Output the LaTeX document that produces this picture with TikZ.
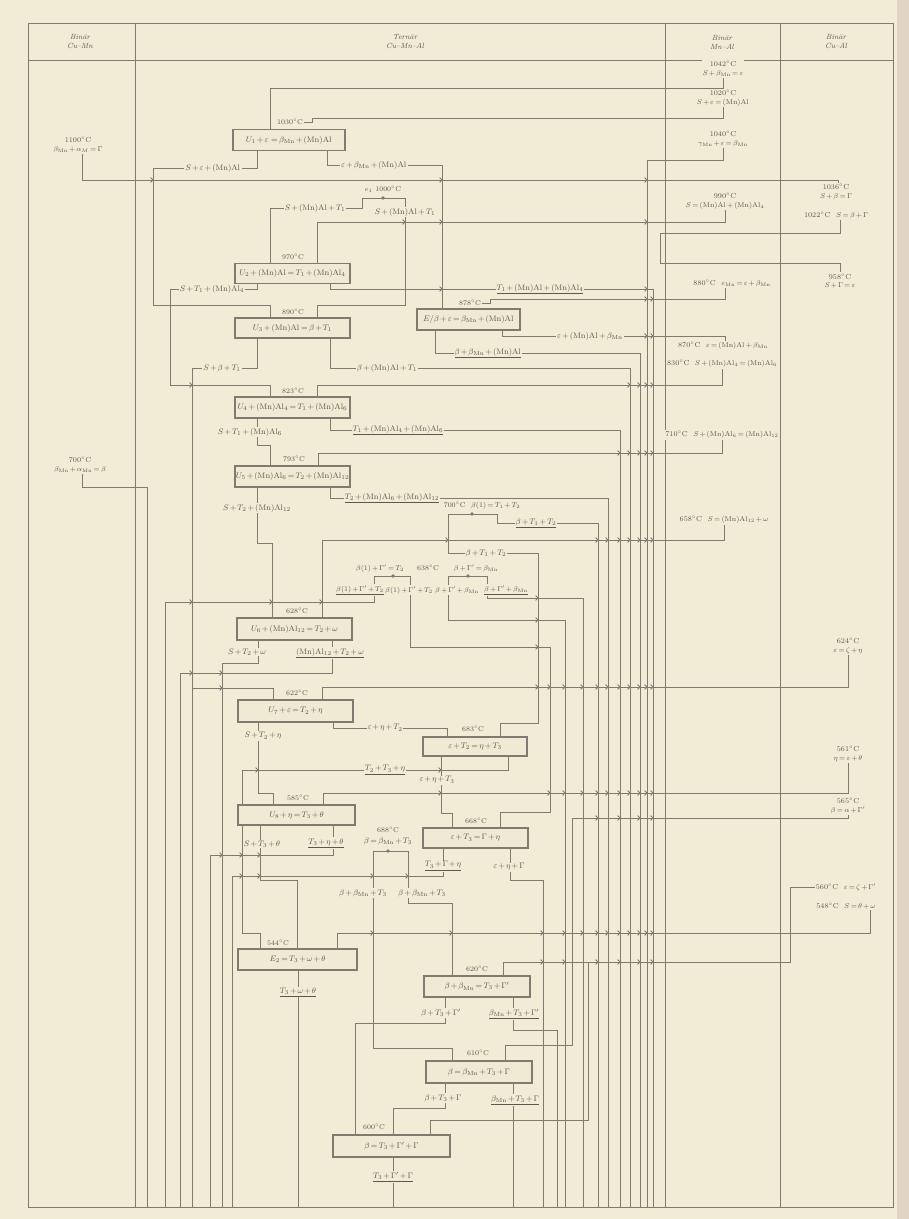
\documentclass[tikz,border=0pt]{standalone}
\newcommand{\bMn}{\beta_{\mathrm{Mn}}}
\newcommand{\MA}[1][]{(\mathrm{Mn})\mathrm{Al}_{#1}}
\newcommand{\dC}{\ensuremath{^\circ}C}
\newcommand{\tightm}{\medmuskip=2.2mu\thickmuskip=2.8mu\relax}
\pgfdeclarelayer{back}
\pgfdeclarelayer{wires}
\pgfsetlayers{back,wires,main}
\definecolor{paper}{RGB}{242,235,213}
\definecolor{edge}{RGB}{226,212,196}
\definecolor{linec}{RGB}{128,122,112}
\definecolor{txtc}{RGB}{92,87,80}
\definecolor{boxf}{RGB}{240,233,211}
\tikzset{
 wire/.style={draw=linec, line width=0.8pt},
 frame/.style={draw=linec, line width=1pt},
 tlab/.style={font=\fontsize{8}{9}\selectfont\tightm, text=txtc, fill=paper, inner sep=1pt},
 tmp/.style={tlab, font=\fontsize{7}{8}\selectfont},
 hdr/.style={font=\fontsize{7.5}{9}\selectfont\itshape, text=txtc, align=center},
 bin/.style={tlab, align=center, font=\fontsize{7.2}{8.4}\selectfont\tightm},
 sml/.style={tlab, font=\fontsize{7}{8}\selectfont\tightm},
 box/.style={draw=linec, line width=1.7pt, fill=boxf, text=txtc, font=\fontsize{8.2}{9}\selectfont\tightm, inner sep=1pt},
 chev/.pic={\draw[wire] (-2.4,-2.4) -- (0,0) -- (-2.4,2.4);},
 rdot/.style={circle, fill=linec, inner sep=0pt, minimum size=3.6pt}
}
\begin{document}
\begin{tikzpicture}[x=1pt,y=-1pt]
\useasboundingbox (0,0) rectangle (909,1219);
\begin{pgfonlayer}{back}
\fill[paper] (0,0) rectangle (909,1219);
\fill[edge] (897,0) rectangle (909,1219);
\end{pgfonlayer}
% headers
\node[hdr] (H1) at (80,42) {Binär\\Cu--Mn};
\node[hdr] (H2) at (405,42) {Ternär\\Cu--Mn--Al};
\node[hdr] (H3) at (722,42) {Binär\\Mn--Al};
\node[hdr] (H4) at (836,42) {Binär\\Cu--Al};
% binary reactions
\node[bin] (L1) at (78,145) {1100\dC\\$\bMn+\alpha_M=\Gamma$};
\node[bin] (L2) at (80,465) {700\dC\\$\bMn+\alpha_{\mathrm{Mn}}=\beta$};
\node[bin] (M1) at (723,69) {1042\dC\\$S+\bMn=\varepsilon$};
\node[bin] (M2) at (723,98) {1020\dC\\$S+\varepsilon=\MA$};
\node[bin] (M3) at (723,139) {1040\dC\\$\gamma_{\mathrm{Mn}}+\varepsilon=\bMn$};
\node[bin] (M4) at (725,201) {990\dC\\$S=\MA+\MA[4]$};
\node[bin] (M5) at (732,283) {880\dC\ \ $\varepsilon_{\mathrm{Mn}}=\varepsilon+\bMn$};
\node[bin] (M6) at (723,346) {870\dC\ \ $\varepsilon=\MA+\bMn$};
\node[bin] (M7) at (722,364) {830\dC\ \ $S+\MA[4]=\MA[6]$};
\node[bin] (M8) at (722,435) {710\dC\ \ $S+\MA[6]=\MA[12]$};
\node[bin] (M9) at (724,520) {658\dC\ \ $S=\MA[12]+\omega$};
\node[bin] (C1) at (836,192) {1036\dC\\$S+\beta=\Gamma$};
\node[bin] (C2) at (836,215) {1022\dC\ \ $S=\beta+\Gamma$};
\node[bin] (C3) at (840,281) {958\dC\\$S+\Gamma=\varepsilon$};
\node[bin] (C4) at (848,646) {624\dC\\$\varepsilon=\zeta+\eta$};
\node[bin] (C5) at (848,754) {561\dC\\$\eta=\varepsilon+\theta$};
\node[bin] (C6) at (848,806) {565\dC\\$\beta=\alpha+\Gamma'$};
\node[bin] (C7) at (846,887) {560\dC\ \ $\varepsilon=\zeta+\Gamma'$};
\node[bin] (C8) at (846,906) {548\dC\ \ $S=\theta+\omega$};
% boxes
\node[box, minimum width=112pt, minimum height=21pt] (B1) at (289,140) {$U_1+\varepsilon\;=\bMn+\MA$};
\node[box, minimum width=115pt, minimum height=20pt] (B2) at (292.5,273.5) {$U_2+\MA=T_1+\MA[4]$};
\node[box, minimum width=115pt, minimum height=20pt] (B3) at (292.5,328) {$U_3+\MA=\beta+T_1$};
\node[box, minimum width=103pt, minimum height=21pt] (B4) at (468.5,319.5) {$E/\beta+\varepsilon=\bMn+\MA$};
\node[box, minimum width=115pt, minimum height=21pt] (B5) at (292.5,407.5) {$U_4+\MA[4]=T_1+\MA[6]$};
\node[box, minimum width=115pt, minimum height=21pt] (B6) at (292.5,476.5) {$U_5+\MA[6]=T_2+\MA[12]$};
\node[box, minimum width=115pt, minimum height=22pt] (B7) at (294.5,629) {$U_6+\MA[12]=T_2+\omega$};
\node[box, minimum width=115pt, minimum height=22pt] (B8) at (295.5,711) {$U_7+\varepsilon=T_2+\eta$};
\node[box, minimum width=104pt, minimum height=19pt] (B9) at (475,746.5) {$\varepsilon+T_2=\eta+T_3$};
\node[box, minimum width=117pt, minimum height=20pt] (B10) at (296.5,815) {$U_8+\eta=T_3+\theta$};
\node[box, minimum width=105pt, minimum height=20pt] (B11) at (475.5,838) {$\varepsilon+T_3=\Gamma+\eta$};
\node[box, minimum width=119pt, minimum height=21pt] (B12) at (297.5,959.5) {$E_2=T_3+\omega+\theta$};
\node[box, minimum width=106pt, minimum height=21pt] (B13) at (477,986.5) {$\beta+\bMn=T_3+\Gamma'$};
\node[box, minimum width=106pt, minimum height=22pt] (B14) at (479,1072) {$\beta=\bMn+T_3+\Gamma$};
\node[box, minimum width=117pt, minimum height=22pt] (B15) at (391.5,1146) {$\beta=T_3+\Gamma'+\Gamma$};
% temperatures
\node[tmp] (T1) at (290,122) {1030\dC};
\node[tmp] (T2) at (293,257) {970\dC};
\node[tmp] (T3) at (293,312) {890\dC};
\node[tmp] (T4) at (470,303) {878\dC};
\node[tmp] (T5) at (293,391) {823\dC};
\node[tmp] (T6) at (294,459) {793\dC};
\node[tmp] (T7) at (297,611) {628\dC};
\node[tmp] (T8) at (297,693) {622\dC};
\node[tmp] (T9) at (473,729) {683\dC};
\node[tmp] (T10) at (298,798) {585\dC};
\node[tmp] (T11) at (476,821) {668\dC};
\node[tmp] (T12) at (278,943) {544\dC};
\node[tmp] (T13) at (477,969) {620\dC};
\node[tmp] (T14) at (478,1053) {610\dC};
\node[tmp] (T15) at (374,1127) {600\dC};
% small ternary maxima
\node[tmp] (E1) at (383,189) {$e_1$\ 1000\dC};
\node[rdot] (D1) at (383,198) {};
\node[sml] (S2) at (482,506) {700\dC\ \ $\beta(1)=T_1+T_2$};
\node[rdot] (D2) at (472,514) {};
\node[sml] (S3a) at (380,568) {$\beta(1)+\Gamma'=T_2$};
\node[tmp] (S3t) at (428,568) {638\dC};
\node[sml] (S3b) at (476,568) {$\beta+\Gamma'=\bMn$};
\node[rdot] (D3) at (393,576) {};
\node[rdot] (D4) at (468,576) {};
\node[tmp] (S4t) at (388,830) {688\dC};
\node[tlab] (S4) at (388,841) {$\beta=\bMn+T_3$};
\node[rdot] (D5) at (388,851) {};
% phase-region labels
\node[tlab] (a1) at (213,168) {$S+\varepsilon+\MA$};
\node[tlab] (a2) at (374,165) {$\varepsilon+\bMn+\MA$};
\node[tlab] (a3) at (315,208) {$S+\MA+T_1$};
\node[tlab] (a4) at (405,212) {$S+\MA+T_1$};
\node[tlab] (a5) at (212,289) {$S+T_1+\MA[4]$};
\node[tlab] (a6) at (540,289) {\underline{$T_1+\MA+\MA[4]$}};
\node[tlab] (a7) at (222,368) {$S+\beta+T_1$};
\node[tlab] (a8) at (387,368) {$\beta+\MA+T_1$};
\node[tlab] (a9) at (590,336) {$\varepsilon+\MA+\bMn$};
\node[tlab] (a10) at (488,353) {\underline{$\beta+\bMn+\MA$}};
\node[tlab] (a11) at (250,432) {$S+T_1+\MA[6]$};
\node[tlab] (a12) at (398,430) {\underline{$T_1+\MA[4]+\MA[6]$}};
\node[tlab] (a13) at (257,508) {$S+T_2+\MA[12]$};
\node[tlab] (a14) at (392,498) {\underline{$T_2+\MA[6]+\MA[12]$}};
\node[tlab] (a15) at (536,523) {\underline{$\beta+T_1+T_2$}};
\node[tlab] (a16) at (486,553) {$\beta+T_1+T_2$};
\node[sml] (a17) at (360,590) {\underline{$\beta(1)+\Gamma'+T_2$}};
\node[sml] (a18) at (409,590) {$\beta(1)+\Gamma'+T_2$};
\node[sml] (a19) at (457,590) {$\beta+\Gamma'+\bMn$};
\node[sml] (a20) at (506,590) {\underline{$\beta+\Gamma'+\bMn$}};
\node[tlab] (a21) at (247,652) {$S+T_2+\omega$};
\node[tlab] (a22) at (330,653) {\underline{$\MA[12]+T_2+\omega$}};
\node[tlab] (a23) at (263,736) {$S+T_2+\eta$};
\node[tlab] (a24) at (385,728) {$\varepsilon+\eta+T_2$};
\node[tlab] (a25) at (437,780) {$\varepsilon+\eta+T_3$};
\node[tlab] (a26) at (385,770) {\underline{$T_2+T_3+\eta$}};
\node[tlab] (a27) at (262,844) {$S+T_3+\theta$};
\node[tlab] (a28) at (326,843) {\underline{$T_3+\eta+\theta$}};
\node[tlab] (a29) at (363,893) {$\beta+\bMn+T_3$};
\node[tlab] (a30) at (422,893) {$\beta+\bMn+T_3$};
\node[tlab] (a31) at (443,866) {\underline{$T_3+\Gamma+\eta$}};
\node[tlab] (a32) at (509,867) {$\varepsilon+\eta+\Gamma$};
\node[tlab] (a33) at (298,992) {\underline{$T_3+\omega+\theta$}};
\node[tlab] (a34) at (441,1013) {$\beta+T_3+\Gamma'$};
\node[tlab] (a35) at (514,1014) {\underline{$\bMn+T_3+\Gamma'$}};
\node[tlab] (a36) at (443,1098) {$\beta+T_3+\Gamma$};
\node[tlab] (a37) at (515,1100) {\underline{$\bMn+T_3+\Gamma$}};
\node[tlab] (a38) at (393,1177) {\underline{$T_3+\Gamma'+\Gamma$}};

\begin{pgfonlayer}{wires}
\draw[frame] (28,23) rectangle (893,1207);
\draw[frame] (28,60) -- (893,60);
\foreach \cx in {135,665,780} \draw[frame] (\cx,23) -- (\cx,1207);
% Cu-Mn reactions
\draw[wire] (82,0 |- L1.south) -- (82,180) -- (838,180) -- (838,0 |- C1.north);
\draw[wire] (82,0 |- L2.south) -- (82,487) -- (147,487) -- (147,1207);
% top
\draw[wire] (270,0 |- B1.north) -- (270,88) -- (723,88) -- (723,0 |- M1.south);
\draw[wire] (T1.east) -| (312,118) -- (723,118) -- (723,0 |- M2.south);
\draw[wire] (723,0 |- M3.south) -- (723,160) -- (647,160) -- (647,1207);
\draw[wire] (257,0 |- B1.south) -- (257,168) -- (153,168) -- (153,305) -- (270,305) -- (270,0 |- B3.north);
\draw[wire] (327,0 |- B1.south) -- (327,165) -- (442,165) -- (442,0 |- B4.north);
\draw[wire] (270,0 |- B2.north) -- (270,208) -- (362,208) -- (362,198) -- (405,198) -- (405,305) -- (317,305) -- (317,0 |- B3.north);
\draw[wire] (317,0 |- B2.north) -- (317,222) -- (725,222) -- (725,0 |- M4.south);
\draw[wire] (840,0 |- C2.south) -- (840,233) -- (660,233) -- (660,263) -- (840,263) -- (840,0 |- C3.north);
% U2
\draw[wire] (257,0 |- B2.south) -- (257,289) -- (170,289) -- (170,385) -- (270,385) -- (270,0 |- B5.north);
\draw[wire] (330,0 |- B2.south) -- (330,289) -- (653,289) -- (653,1207);
% U3
\draw[wire] (257,0 |- B3.south) -- (257,368) -- (192,368) -- (192,1207);
\draw[wire] (330,0 |- B3.south) -- (330,368) -- (630,368) -- (630,1207);
% E / 878
\draw[wire] (T4.east) -| (490,299) -- (725,299) -- (725,0 |- M5.south);
\draw[wire] (502,0 |- B4.south) -- (502,336) -- (725,336) -- (725,0 |- M6.north);
\draw[wire] (435,0 |- B4.south) -- (435,353) -- (640,353) -- (640,1207);
% U4
\draw[wire] (317,0 |- B5.north) -- (317,385) -- (722,385) -- (722,0 |- M7.south);
\draw[wire] (257,0 |- B5.south) -- (257,445) -- (270,445) -- (270,0 |- B6.north);
\draw[wire] (330,0 |- B5.south) -- (330,430) -- (620,430) -- (620,1207);
% U5
\draw[wire] (318,0 |- B6.north) -- (318,453) -- (722,453) -- (722,0 |- M8.south);
\draw[wire] (257,0 |- B6.south) -- (257,543) -- (272,543) -- (272,0 |- B7.north);
\draw[wire] (330,0 |- B6.south) -- (330,498) -- (608,498) -- (608,1207);
% 700 maximum
\draw[wire] (448,553) -- (448,514) -- (497,514) -- (497,523) -- (598,523) -- (598,1207);
\draw[wire] (448,553) -- (538,553) -- (538,723) -- (500,723) -- (500,0 |- B9.north);
% U6
\draw[wire] (322,0 |- B7.north) -- (322,540) -- (724,540) -- (724,0 |- M9.south);
% 638 maxima
\draw[wire] (410,576) -- (374,576) -- (374,602) -- (165,602) -- (165,1207);
\draw[wire] (410,576) -- (410,647) -- (550,647) -- (550,812) -- (500,812) -- (500,0 |- B11.north);
\draw[wire] (487,576) -- (448,576) -- (448,620) -- (565,620) -- (565,1207);
\draw[wire] (487,576) -- (487,598) -- (583,598) -- (583,1207);
\draw[wire] (258,0 |- B7.south) -- (258,663) -- (222,663) -- (222,1207);
\draw[wire] (332,0 |- B7.south) -- (332,673) -- (180,673) -- (180,1207);
% U7
\draw[wire] (322,0 |- B8.north) -- (322,687) -- (848,687) -- (848,0 |- C4.south);
\draw[wire] (192,688) -- (273,688) -- (273,0 |- B8.north);
\draw[wire] (258,0 |- B8.south) -- (258,793) -- (273,793) -- (273,0 |- B10.north);
\draw[wire] (333,0 |- B8.south) -- (333,728) -- (447,728) -- (447,0 |- B9.north);
% eps+T2
\draw[wire] (441,0 |- B9.south) -- (441,813) -- (452,813) -- (452,0 |- B11.north);
\draw[wire] (508,0 |- B9.south) -- (508,770) -- (242,770) -- (242,933) -- (260,933) -- (260,0 |- B12.north);
% U8
\draw[wire] (323,0 |- B10.north) -- (323,793) -- (848,793) -- (848,0 |- C5.south);
\draw[wire] (260,0 |- B10.south) -- (260,880) -- (297,880) -- (297,0 |- B12.north);
\draw[wire] (333,0 |- B10.south) -- (333,855) -- (210,855) -- (210,1207);
% 688 maximum
\draw[wire] (373,851) -- (408,851);
\draw[wire] (373,851) -- (373,1048) -- (452,1048) -- (452,0 |- B14.north);
\draw[wire] (408,851) -- (408,903) -- (452,903) -- (452,0 |- B13.north);
% eps+T3
\draw[wire] (443,0 |- B11.south) -- (443,876) -- (232,876) -- (232,1207);
\draw[wire] (510,0 |- B11.south) -- (510,880) -- (543,880) -- (543,1207);
% E2
\draw[wire] (337,0 |- B12.north) -- (337,933) -- (870,933) -- (870,0 |- C8.south);
\draw[wire] (298,0 |- B12.south) -- (298,1207);
% lower beta reactions
\draw[wire] (503,0 |- B13.north) -- (503,962) -- (790,962) -- (790,887) -- (C7.west);
\draw[wire] (445,0 |- B13.south) -- (445,1023) -- (355,1023) -- (355,0 |- B15.north);
\draw[wire] (513,0 |- B13.south) -- (513,1030) -- (557,1030) -- (557,1207);
\draw[wire] (505,0 |- B14.north) -- (505,1045) -- (572,1045) -- (572,818) -- (848,818) -- (848,0 |- C6.south);
\draw[wire] (445,0 |- B14.south) -- (445,1108) -- (393,1108) -- (393,0 |- B15.north);
\draw[wire] (513,0 |- B14.south) -- (513,1207);
\draw[wire] (588,962) -- (588,1120) -- (430,1120) -- (430,0 |- B15.north);
\draw[wire] (393,0 |- B15.south) -- (393,1207);
% crossing marks
\foreach \p in {(153,180),(442,180),(647,180),(405,222),(442,222),(647,222),(442,289),(647,289),(647,299),(653,299),(647,336),(653,336),(192,385),(630,385),(640,385),(647,385),(653,385),(620,453),(630,453),(640,453),(647,453),(653,453),(448,540),(598,540),(608,540),(620,540),(630,540),(640,540),(647,540),(653,540),(538,598),(192,602),(272,602),(322,602),(538,620),(538,647),(222,673),(192,673),(222,688),(538,687),(550,687),(565,687),(583,687),(598,687),(608,687),(620,687),(630,687),(640,687),(647,687),(653,687),(258,770),(441,770),(441,793),(550,793),(565,793),(583,793),(598,793),(608,793),(620,793),(630,793),(640,793),(647,793),(653,793),(598,818),(620,818),(640,818),(653,818),(260,855),(242,855),(222,855),(408,876),(373,876),(260,876),(242,876),(373,933),(452,933),(543,933),(565,933),(583,933),(598,933),(608,933),(620,933),(630,933),(640,933),(647,933),(653,933),(543,962),(565,962),(598,962),(620,962),(640,962),(653,962)}
  \pic at \p {chev};
\end{pgfonlayer}
\end{tikzpicture}
\end{document}
